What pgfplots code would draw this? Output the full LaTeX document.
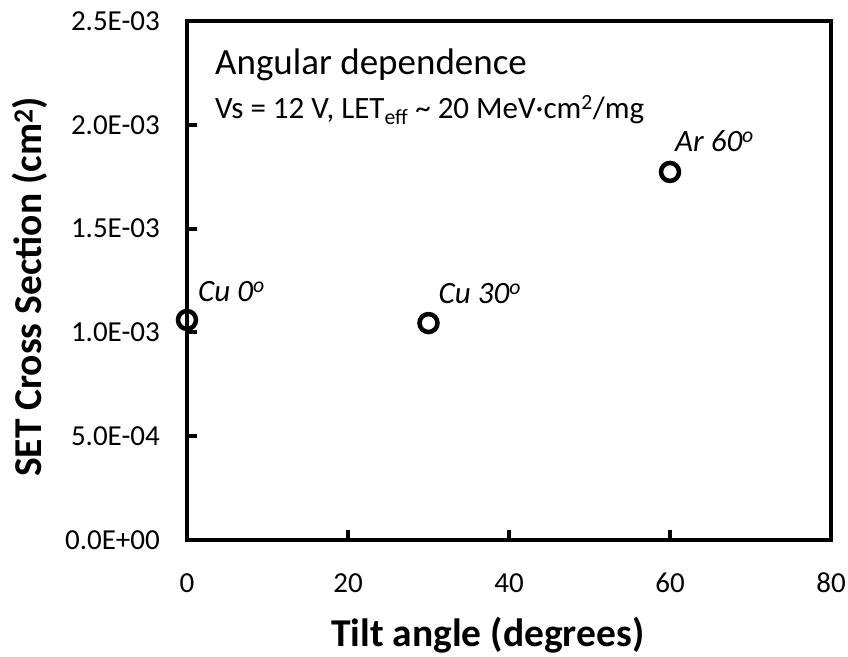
\documentclass[border=0pt]{standalone}
\usepackage{pgfplots}
\pgfplotsset{compat=1.18}
\usepackage{fontspec}
\setmainfont{Carlito}
\begin{document}
\begin{tikzpicture}
\useasboundingbox (-187bp,-117bp) rectangle (661bp,540bp);
\begin{axis}[
  at={(0,0)}, anchor=south west,
  scale only axis, width=644bp, height=519bp,
  xmin=0, xmax=80, ymin=0, ymax=0.0025,
  xtick={0,20,40,60,80},
  xticklabels={0,20,40,60,80},
  ytick={0,0.0005,0.001,0.0015,0.002,0.0025},
  yticklabels={0.0E+00,5.0E-04,1.0E-03,1.5E-03,2.0E-03,2.5E-03},
  scaled y ticks=false,
  tick pos=left, tick align=inside, major tick length=10bp,
  axis line style={line width=4.5bp},
  tick style={black, line width=4bp},
  ticklabel style={font=\fontsize{29bp}{34bp}\selectfont},
  xticklabel style={anchor=center, inner sep=0pt, yshift=-43bp},
  yticklabel style={anchor=east, inner sep=0pt, xshift=-27bp},
  xlabel={Tilt angle (degrees)},
  ylabel={SET Cross Section (cm\textsuperscript{2})},
  label style={font=\fontsize{39.5bp}{46bp}\selectfont\bfseries},
  xlabel style={at={(axis description cs:0.467,-0.183)}, anchor=center},
  ylabel style={at={(axis description cs:-0.2438,0.4875)}, anchor=center},
  clip=false,
]
\addplot[only marks, mark=o, mark size=9bp, line width=4.5bp, black]
  coordinates {(0,0.001060) (30,0.001045) (60,0.001773)};

\node[anchor=base west, inner sep=0pt, xshift=11bp, yshift=18bp,
  font=\fontsize{31bp}{36bp}\selectfont\itshape] at (axis cs:0,0.001060) {Cu 0\textsuperscript{o}};
\node[anchor=base west, inner sep=0pt, xshift=10bp, yshift=20bp,
  font=\fontsize{31bp}{36bp}\selectfont\itshape] at (axis cs:30,0.001045) {Cu 30\textsuperscript{o}};
\node[anchor=base west, inner sep=0pt, xshift=5bp, yshift=20bp,
  font=\fontsize{31bp}{36bp}\selectfont\itshape] at (axis cs:60,0.001773) {Ar 60\textsuperscript{o}};

\node[anchor=base west, inner sep=0pt, font=\fontsize{37bp}{44bp}\selectfont]
  at (axis description cs:0.0435,0.896) {Angular dependence};
\node[anchor=base west, inner sep=0pt, font=\fontsize{31bp}{37bp}\selectfont]
  at (axis description cs:0.0435,0.813) {Vs = 12 V, LET\textsubscript{eff} \textasciitilde{} 20 MeV·cm\textsuperscript{2}/mg};
\end{axis}
\end{tikzpicture}
\end{document}
